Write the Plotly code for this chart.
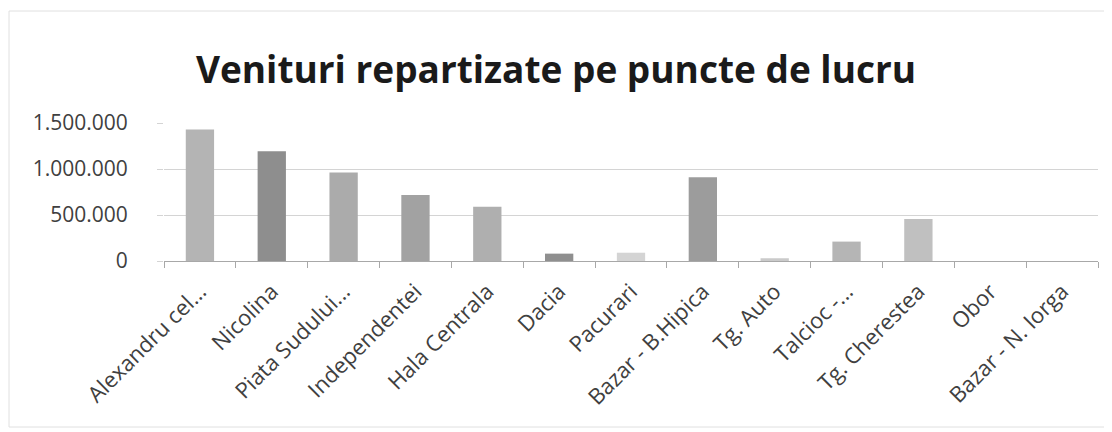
import plotly.graph_objects as go

categories = ["Alexandru cel...", "Nicolina", "Piata Sudului...", "Independentei",
              "Hala Centrala", "Dacia", "Pacurari", "Bazar - B.Hipica", "Tg. Auto",
              "Talcioc -...", "Tg. Cherestea", "Obor", "Bazar - N. Iorga"]
values = [1428000, 1192000, 961000, 717000, 591000, 80000, 90000, 911000, 30000,
          211000, 457000, 0, 0]
bar_colors = ["#b4b4b4", "#8e8e8e", "#ababab", "#a2a2a2", "#afafaf", "#8f8f8f",
              "#d4d4d4", "#9c9c9c", "#cacaca", "#b5b5b5", "#c0c0c0", "#c0c0c0", "#c0c0c0"]
y_ticks = [0, 500000, 1000000, 1500000]
title_text = "Venituri repartizate pe puncte de lucru"

# page body has an 8px default margin; size the figure to fit the 1112x432 window
OFF = 8
W, H = 1112 - OFF, 432 - OFF
ml, mr, mt, mb = 164 - OFF, 14, 123 - OFF, 171

fig = go.Figure(go.Bar(x=categories, y=values, marker=dict(color=bar_colors, line=dict(width=0))))

fig.update_layout(
    width=W, height=H,
    margin=dict(l=ml, r=mr, t=mt, b=mb, autoexpand=False),
    paper_bgcolor="white", plot_bgcolor="white",
    separators=",.",
    bargap=0.606,
    showlegend=False,
    title=dict(text="<b>" + title_text + "</b>", x=(556 - OFF) / W, xanchor="center",
               y=1 - (70 - OFF) / H, yanchor="middle",
               font=dict(family="Open Sans", size=37, color="#1a1a1a")),
    font=dict(family="Open Sans", color="#404040"),
)
fig.update_xaxes(
    type="category", tickangle=-45, tickfont=dict(size=22, color="#404040"),
    showline=True, linecolor="#a8a8a8", linewidth=1,
    ticks="outside", tickson="boundaries", ticklen=6, tickcolor="#a8a8a8",
    showgrid=False, ticklabelshift=0, ticklabelstandoff=8,
)
fig.update_yaxes(
    range=[0, 1500000], tickvals=y_ticks, tickformat=",d",
    tickfont=dict(size=21, color="#404040"),
    showgrid=True, gridcolor="#d4d4d4", gridwidth=1,
    zeroline=False, showline=False, ticks="outside", ticklen=6, tickcolor="#d4d4d4",
    ticklabelstandoff=25,
)

pw = W - ml - mr
ph = H - mt - mb
fig.add_shape(type="rect", xref="paper", yref="paper",
              x0=(1 - ml) / pw, x1=(W + 10 - ml) / pw,
              y0=(H - mb - (427 - OFF)) / ph, y1=(H - mb - (11 - OFF)) / ph,
              line=dict(color="#e0e0e0", width=1), layer="below")

fig.write_html("out.html")
